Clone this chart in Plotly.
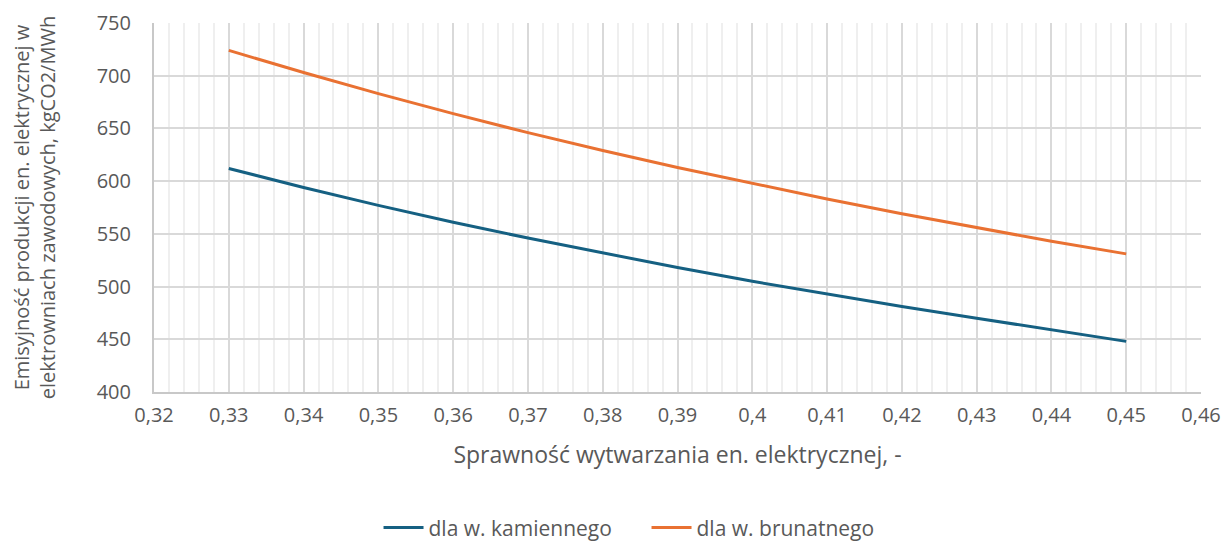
import plotly.graph_objects as go

# Sprawność wytwarzania (efficiency) and emission factors for two coal types
sprawnosc = [0.33, 0.34, 0.35, 0.36, 0.37, 0.38, 0.39, 0.40, 0.41, 0.42, 0.43, 0.44, 0.45]
kamienny = [612, 594, 577, 561, 546, 532, 518, 505, 493, 481, 470, 459, 448]
brunatny = [724, 703, 683, 664, 646, 629, 613, 598, 583, 569, 556, 543, 531]

x_ticks = [0.32, 0.33, 0.34, 0.35, 0.36, 0.37, 0.38, 0.39, 0.40, 0.41, 0.42, 0.43, 0.44, 0.45, 0.46]
x_ticktext = [("%.2f" % v).rstrip("0").replace(".", ",") for v in x_ticks]
y_ticks = [400, 450, 500, 550, 600, 650, 700, 750]

FONT = "Open Sans"
GRAY = "#595959"

fig = go.Figure()
fig.add_trace(go.Scatter(
    x=sprawnosc, y=kamienny, mode="lines", name="dla w. kamiennego",
    line=dict(color="#156082", width=3),
))
fig.add_trace(go.Scatter(
    x=sprawnosc, y=brunatny, mode="lines", name="dla w. brunatnego",
    line=dict(color="#E97132", width=3),
))

fig.update_layout(
    width=1225, height=542,
    margin=dict(l=154, r=24, t=23, b=150, autoexpand=False),
    paper_bgcolor="white", plot_bgcolor="white",
    font=dict(family=FONT, color=GRAY, size=19),
    showlegend=True,
    legend=dict(
        orientation="h", x=0.309, xref="container", xanchor="left",
        y=0.026, yref="container", yanchor="middle",
        font=dict(family=FONT, size=21, color=GRAY),
        itemwidth=40, tracegroupgap=0,
        entrywidth=213, entrywidthmode="pixels",
    ),
    xaxis=dict(
        range=[0.32, 0.46], tickvals=x_ticks, ticktext=x_ticktext,
        showgrid=True, gridcolor="#d9d9d9", gridwidth=2,
        minor=dict(dtick=0.002, tick0=0.32, showgrid=True, gridcolor="#efefef", gridwidth=2),
        showline=True, linecolor="#c8c8c8", linewidth=2,
        ticks="", ticklabelstandoff=4, zeroline=False, automargin=False,
        tickfont=dict(size=20, color=GRAY),
        title=dict(text="Sprawność wytwarzania en. elektrycznej, -", standoff=20,
                   font=dict(size=23, color=GRAY)),
    ),
    yaxis=dict(
        range=[400, 750], tickvals=y_ticks,
        showgrid=True, gridcolor="#d9d9d9", gridwidth=2,
        showline=True, linecolor="#c8c8c8", linewidth=2,
        ticks="", ticklabelstandoff=17, zeroline=False, automargin=False,
        tickfont=dict(size=20, color=GRAY),
        title=dict(text="Emisyjność produkcji en. elektrycznej w<br>elektrowniach zawodowych, kgCO2/MWh",
                   standoff=36, font=dict(size=20, color=GRAY)),
    ),
)

fig.write_html("out.html")
